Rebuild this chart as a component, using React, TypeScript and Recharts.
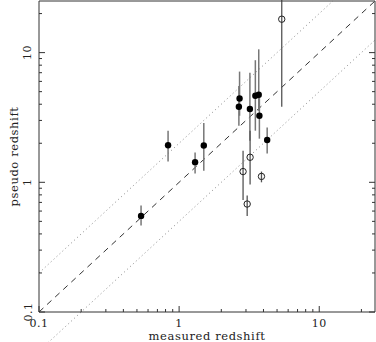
import { ScatterChart, Scatter, XAxis, YAxis, ErrorBar, ReferenceLine } from "recharts"

// filled circles
const filledMeasured = [0.535, 0.834, 1.3, 1.5, 2.7, 2.67, 3.2, 3.5, 3.7, 3.74, 4.25]
const filledPseudo = [0.551, 1.93, 1.43, 1.92, 4.43, 3.82, 3.67, 4.65, 4.73, 3.26, 2.12]
const filledLow = [0.464, 1.45, 1.17, 1.23, 3.26, 2.73, 2.09, 2.5, 3.56, 2.17, 1.67]
const filledHigh = [0.662, 2.5, 1.7, 2.86, 7.14, 5.54, 6.98, 8.74, 10.6, 4.65, 2.65]

// open circles
const openMeasured = [3.21, 2.86, 3.06, 3.87, 5.4]
const openPseudo = [1.56, 1.21, 0.68, 1.11, 18.1]
const openLow = [0.96, 0.73, 0.55, 1.0, 3.82]
const openHigh = [2.5, 1.75, 0.79, 1.21, 40]

const axisTicks = [
  0.1, 0.2, 0.3, 0.4, 0.5, 0.6, 0.7, 0.8, 0.9,
  1, 2, 3, 4, 5, 6, 7, 8, 9,
  10, 20,
]
const tickLabels: Record<string, string> = { "0.1": "0.1", "1": "1", "10": "10" }

const domain: [number, number] = [0.1, 25]
// pseudo = ratio * measured
const ratios = [0.5, 1, 2]

const FONT = "'DejaVu Serif', serif"
const AXIS = "#333"

const toRows = (xs: number[], ys: number[], lo: number[], hi: number[]) =>
  xs.map((x, i) => ({ x, y: ys[i], err: [ys[i] - lo[i], hi[i] - ys[i]] }))

const filled = toRows(filledMeasured, filledPseudo, filledLow, filledHigh)
const open = toRows(openMeasured, openPseudo, openLow, openHigh)

const tickLen = (v: number) => (tickLabels[String(v)] ? 6 : 3)

function BottomTick(props: any) {
  const { x, y, payload } = props
  const label = tickLabels[String(payload.value)]
  return (
    <g>
      <line x1={x} x2={x} y1={y} y2={y - tickLen(payload.value)} stroke={AXIS} />
      {label && (
        <text x={x} y={y + 11} textAnchor="middle" dominantBaseline="central" fontFamily={FONT} fontSize={11} letterSpacing={0.5} fill="#222">
          {label}
        </text>
      )}
    </g>
  )
}

function TopTick(props: any) {
  const { x, y, payload } = props
  return <line x1={x} x2={x} y1={y} y2={y + tickLen(payload.value)} stroke={AXIS} />
}

function LeftTick(props: any) {
  const { x, y, payload } = props
  const label = tickLabels[String(payload.value)]
  return (
    <g>
      <line x1={x} x2={x + tickLen(payload.value)} y1={y} y2={y} stroke={AXIS} />
      {label && (
        <text
          x={x - 11}
          y={y}
          textAnchor="middle"
          dominantBaseline="central"
          fontFamily={FONT}
          fontSize={11}
          letterSpacing={0.5}
          fill="#222"
          transform={`rotate(-90, ${x - 11}, ${y})`}
        >
          {label}
        </text>
      )}
    </g>
  )
}

function RightTick(props: any) {
  const { x, y, payload } = props
  return <line x1={x} x2={x - tickLen(payload.value)} y1={y} y2={y} stroke={AXIS} />
}

const FilledDot = (p: any) => <circle cx={p.cx} cy={p.cy} r={3.2} fill="#000" />
const OpenDot = (p: any) => <circle cx={p.cx} cy={p.cy} r={3.2} fill="none" stroke="#222" strokeWidth={1} />

export default function App() {
  return (
    <div style={{ position: "absolute", left: 0, top: 0 }}>
      <ScatterChart width={376} height={342} margin={{ top: 0, right: 0, bottom: 0, left: 0 }}>
        <XAxis
          xAxisId="b"
          dataKey="x"
          type="number"
          scale="log"
          domain={domain}
          allowDataOverflow
          ticks={axisTicks}
          interval={0}
          height={30}
          tickSize={0}
          tickMargin={0}
          tickLine={false}
          axisLine={{ stroke: AXIS }}
          tick={(p: any) => <BottomTick {...p} />}
          label={{
            content: ({ viewBox }: any) => (
              <text
                x={viewBox.x + viewBox.width / 2}
                y={viewBox.y + 24}
                textAnchor="middle"
                dominantBaseline="central"
                fontFamily={FONT}
                fontSize={11.5}
                letterSpacing={0.6}
                fill="#222"
              >
                measured redshift
              </text>
            ),
          }}
        />
        <XAxis
          xAxisId="t"
          orientation="top"
          type="number"
          scale="log"
          domain={domain}
          allowDataOverflow
          ticks={axisTicks}
          interval={0}
          height={1}
          tickSize={0}
          tickMargin={0}
          tickLine={false}
          axisLine={{ stroke: AXIS }}
          tick={(p: any) => <TopTick {...p} />}
        />
        <YAxis
          yAxisId="l"
          dataKey="y"
          type="number"
          scale="log"
          domain={domain}
          allowDataOverflow
          ticks={axisTicks}
          interval={0}
          width={39}
          tickSize={0}
          tickMargin={0}
          tickLine={false}
          axisLine={{ stroke: AXIS }}
          tick={(p: any) => <LeftTick {...p} />}
          label={{
            content: ({ viewBox }: any) => (
              <text
                x={14}
                y={viewBox.y + viewBox.height / 2}
                textAnchor="middle"
                dominantBaseline="central"
                fontFamily={FONT}
                fontSize={11.5}
                letterSpacing={0.6}
                fill="#222"
                transform={`rotate(-90, 14, ${viewBox.y + viewBox.height / 2})`}
              >
                pseudo redshift
              </text>
            ),
          }}
        />
        <YAxis
          yAxisId="r"
          orientation="right"
          type="number"
          scale="log"
          domain={domain}
          allowDataOverflow
          ticks={axisTicks}
          interval={0}
          width={1}
          tickSize={0}
          tickMargin={0}
          tickLine={false}
          axisLine={{ stroke: AXIS }}
          tick={(p: any) => <RightTick {...p} />}
        />
        {ratios.map((r) => (
          <ReferenceLine
            key={r}
            xAxisId="b"
            yAxisId="l"
            segment={[
              { x: domain[0], y: domain[0] * r },
              { x: domain[1] / Math.max(r, 1), y: Math.min(domain[1] * r, domain[1]) },
            ]}
            stroke={r === 1 ? "#333" : "#888"}
            strokeWidth={1}
            strokeDasharray={r === 1 ? "6 5" : "1 3"}
            ifOverflow="visible"
          />
        ))}
        <Scatter xAxisId="b" yAxisId="l" data={filled} shape={FilledDot} isAnimationActive={false}>
          <ErrorBar dataKey="err" direction="y" width={0} stroke="#777" strokeWidth={1.5} isAnimationActive={false} />
        </Scatter>
        <Scatter xAxisId="b" yAxisId="l" data={open} shape={OpenDot} isAnimationActive={false}>
          <ErrorBar dataKey="err" direction="y" width={0} stroke="#555" strokeWidth={1.3} isAnimationActive={false} />
        </Scatter>
      </ScatterChart>
    </div>
  )
}
